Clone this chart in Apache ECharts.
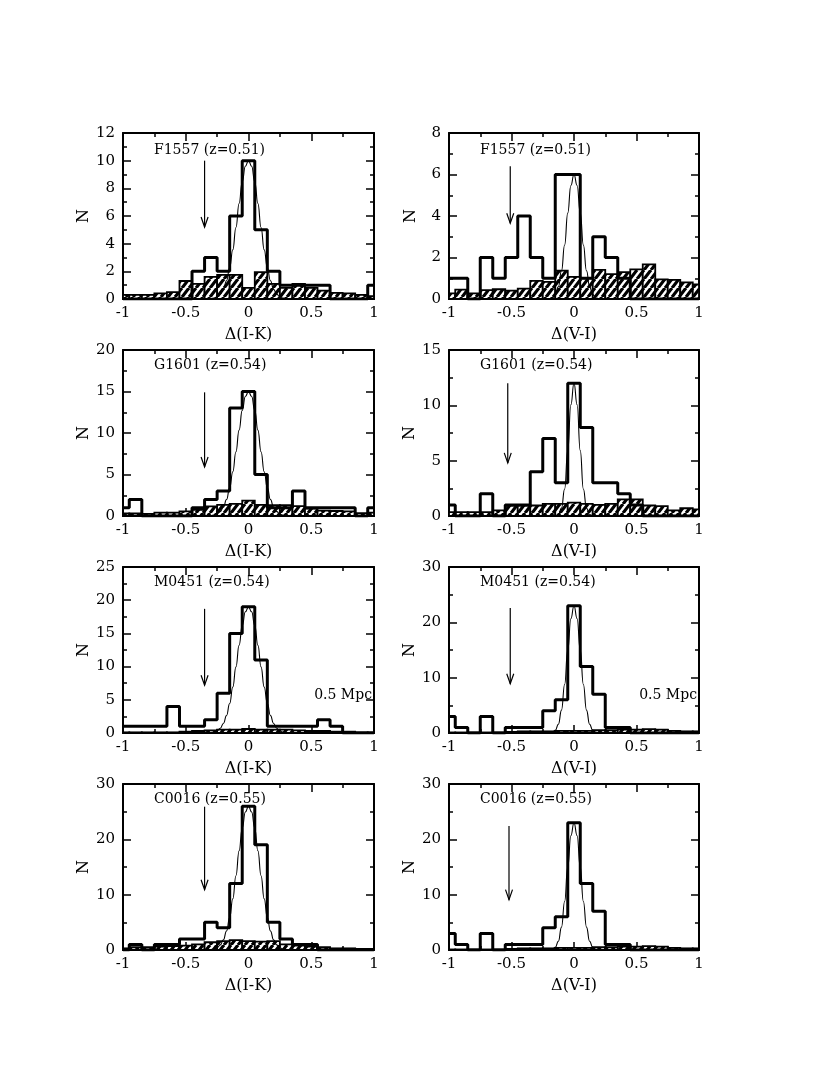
<!DOCTYPE html>
<html>
<head>
<meta charset="utf-8">
<script src="https://cdn.jsdelivr.net/npm/echarts@6/dist/echarts.min.js"></script>
<style>
html,body{margin:0;padding:0;background:#fff;}
#chart{width:830px;height:1075px;}
</style>
</head>
<body>
<div id="chart"></div>
<script>
// ---------------- DATA ----------------
const binCenters = [-1.0,-0.9,-0.8,-0.7,-0.6,-0.5,-0.4,-0.3,-0.2,-0.1,0,0.1,0.2,0.3,0.4,0.5,0.6,0.7,0.8,0.9,1.0];
const BIN_WIDTH = 0.1;
const X_MIN = -1, X_MAX = 1, X_STEP = 0.5;
const xTickLabels = ['-1','-0.5','0','0.5','1'];

const clusterNames = ['F1557 (z=0.51)','G1601 (z=0.54)','M0451 (z=0.54)','C0016 (z=0.55)'];
const colourNames = ['\u0394(I-K)','\u0394(V-I)'];
const apertureLabel = '0.5 Mpc';

// cluster histograms (thick steps), one value per bin centre
const f1557IK = [0,0,0,0,0,0,2,3,2,6,10,5,2,1,1,1,1,0,0,0,1];
const f1557VI = [1,1,0,2,1,2,4,2,1,6,6,1,3,2,1,0,0,0,0,0,0];
const g1601IK = [1,2,0,0,0,0,1,2,3,13,15,5,1,1,3,1,1,1,1,0,1];
const g1601VI = [1,0,0,2,0,1,1,4,7,3,12,8,3,3,2,1,0,0,0,0,0];
const m0451IK = [1,1,1,1,4,1,1,2,6,15,19,11,1,1,1,1,2,1,0,0,0];
const m0451VI = [3,1,0,3,0,1,1,1,4,6,23,12,7,1,1,0,0,0,0,0,0];
const c0016IK = [0,1,0,1,1,2,2,5,4,12,26,19,5,2,1,1,0,0,0,0,0];
const c0016VI = [3,1,0,3,0,1,1,1,4,6,23,12,7,1,1,0,0,0,0,0,0];

// field histograms (hatched)
const f1557IKField = [0.3,0.3,0.3,0.4,0.5,1.3,1.1,1.6,1.75,1.75,0.8,1.95,1.1,0.8,1.1,0.8,0.6,0.45,0.4,0.3,0.2];
const f1557VIField = [0.27,0.45,0.27,0.43,0.47,0.4,0.5,0.87,0.83,1.37,1.07,1.0,1.4,1.2,1.3,1.43,1.67,0.95,0.92,0.8,0.7];
const g1601IKField = [0.3,0.3,0.25,0.4,0.4,0.55,0.75,1.15,1.35,1.45,1.85,1.35,1.3,1.3,1.2,0.9,0.65,0.6,0.55,0.35,0.4];
const g1601VIField = [0.35,0.35,0.35,0.35,0.5,0.95,0.95,0.95,1.1,1.1,1.2,1.1,1.0,1.1,1.5,1.5,0.95,0.9,0.5,0.7,0.6];
const m0451IKField = [0.1,0.1,0.1,0.1,0.1,0.2,0.3,0.4,0.5,0.5,0.6,0.5,0.5,0.5,0.4,0.3,0.3,0.2,0.2,0.1,0.1];
const m0451VIField = [0.1,0.1,0.1,0.1,0.1,0.2,0.3,0.3,0.3,0.4,0.4,0.4,0.5,0.5,0.6,0.6,0.7,0.6,0.4,0.3,0.3];
const c0016IKField = [0.3,0.5,0.5,0.6,0.7,0.8,1.0,1.4,1.6,1.8,1.6,1.5,1.6,1.0,0.8,0.6,0.5,0.3,0.3,0.2,0.2];
const c0016VIField = [0.1,0.1,0.1,0.1,0.1,0.2,0.3,0.3,0.3,0.4,0.4,0.4,0.5,0.5,0.6,0.6,0.7,0.6,0.4,0.3,0.3];

// fitted curves (thin), read at these x positions
const fitX = [-0.3,-0.275,-0.25,-0.225,-0.2,-0.175,-0.15,-0.125,-0.1,-0.075,-0.05,-0.025,0,0.025,0.05,0.075,0.1,0.125,0.15,0.175,0.2,0.225,0.25,0.275,0.3];
const f1557IKFit = [0.03,0.07,0.16,0.35,0.71,1.32,2.26,3.56,5.17,6.9,8.48,9.6,10,9.6,8.48,6.9,5.17,3.56,2.26,1.32,0.71,0.35,0.16,0.07,0.03];
const f1557VIFit = [0,0,0,0,0.02,0.06,0.21,0.59,1.36,2.6,4.14,5.47,6,5.47,4.14,2.6,1.36,0.59,0.21,0.06,0.02,0,0,0,0];
const g1601IKFit = [0.04,0.1,0.24,0.53,1.07,1.98,3.39,5.34,7.75,10.35,12.72,14.39,15,14.39,12.72,10.35,7.75,5.34,3.39,1.98,1.07,0.53,0.24,0.1,0.04];
const g1601VIFit = [0,0,0,0,0,0,0.02,0.14,0.71,2.44,5.91,10.05,12,10.05,5.91,2.44,0.71,0.14,0.02,0,0,0,0,0,0];
const m0451IKFit = [0.06,0.14,0.34,0.72,1.44,2.63,4.44,6.93,9.96,13.21,16.17,18.25,19,18.25,16.17,13.21,9.96,6.93,4.44,2.63,1.44,0.72,0.34,0.14,0.06];
const m0451VIFit = [0,0,0,0,0.02,0.12,0.49,1.58,4.14,8.77,14.98,20.66,23,20.66,14.98,8.77,4.14,1.58,0.49,0.12,0.02,0,0,0,0];
const c0016IKFit = [0.07,0.18,0.42,0.92,1.85,3.44,5.88,9.26,13.43,17.93,22.04,24.95,26,24.95,22.04,17.93,13.43,9.26,5.88,3.44,1.85,0.92,0.42,0.18,0.07];
const c0016VIFit = [0,0,0,0,0.02,0.12,0.49,1.58,4.14,8.77,14.98,20.66,23,20.66,14.98,8.77,4.14,1.58,0.49,0.12,0.02,0,0,0,0];

// arrows: [x, y of tail, y of tip]
const f1557IKArrow = [-0.35, 10, 5.2];
const f1557VIArrow = [-0.51, 6.4, 3.65];
const g1601IKArrow = [-0.35, 14.9, 5.9];
const g1601VIArrow = [-0.53, 12.0, 4.8];
const m0451IKArrow = [-0.35, 18.7, 7.2];
const m0451VIArrow = [-0.51, 22.6, 8.9];
const c0016IKArrow = [-0.35, 25.9, 10.9];
const c0016VIArrow = [-0.52, 22.4, 9.1];

// y axis ranges: [max, interval]
const yRanges = [[12,2],[8,2],[20,5],[15,5],[25,5],[30,10],[30,10],[30,10]];

// ---------------- LAYOUT ----------------
const FONT = 'DejaVu Serif';
const colLeft = [123, 449];
const colWidth = [251, 250];
const rowTop = [133, 350, 567, 784];
const rowHeight = 166;

const panels = [
  {row:0,col:0,cluster:f1557IK,field:f1557IKField,fit:f1557IKFit,arrow:f1557IKArrow},
  {row:0,col:1,cluster:f1557VI,field:f1557VIField,fit:f1557VIFit,arrow:f1557VIArrow},
  {row:1,col:0,cluster:g1601IK,field:g1601IKField,fit:g1601IKFit,arrow:g1601IKArrow},
  {row:1,col:1,cluster:g1601VI,field:g1601VIField,fit:g1601VIFit,arrow:g1601VIArrow},
  {row:2,col:0,cluster:m0451IK,field:m0451IKField,fit:m0451IKFit,arrow:m0451IKArrow,aperture:true},
  {row:2,col:1,cluster:m0451VI,field:m0451VIField,fit:m0451VIFit,arrow:m0451VIArrow,aperture:true},
  {row:3,col:0,cluster:c0016IK,field:c0016IKField,fit:c0016IKFit,arrow:c0016IKArrow},
  {row:3,col:1,cluster:c0016VI,field:c0016VIField,fit:c0016VIFit,arrow:c0016VIArrow}
];

function makeHatch(){
  const w = 7, h = 9;
  const c = document.createElement('canvas');
  c.width = w; c.height = h;
  const g = c.getContext('2d');
  g.fillStyle = '#fff'; g.fillRect(0,0,w,h);
  g.strokeStyle = '#000'; g.lineWidth = 3.2; g.beginPath();
  [-w,0,w].forEach(dx => { g.moveTo(dx,h); g.lineTo(dx+w,0); });
  g.stroke();
  return c;
}
const hatch = makeHatch();

function hatchRender(params, api){
  const c = api.value(0), v = api.value(1);
  if (!(v > 0)) return null;
  const x0 = Math.max(c - BIN_WIDTH/2, X_MIN), x1 = Math.min(c + BIN_WIDTH/2, X_MAX);
  const a = api.coord([x0, v]), b = api.coord([x1, 0]);
  return {type:'rect', shape:{x:a[0], y:a[1], width:b[0]-a[0], height:b[1]-a[1]},
          style:{fill:{image:hatch, repeat:'repeat'}, stroke:'#000', lineWidth:1.8}};
}
function arrowRender(params, api){
  const top = api.coord([api.value(0), api.value(1)]);
  const tip = api.coord([api.value(0), api.value(2)]);
  return {type:'group', children:[
    {type:'line', shape:{x1:top[0],y1:top[1],x2:tip[0],y2:tip[1]}, style:{stroke:'#000', lineWidth:1.2}},
    {type:'polyline', shape:{points:[[tip[0]-3.5,tip[1]-10],[tip[0],tip[1]],[tip[0]+3.5,tip[1]-10]]},
     style:{stroke:'#000', fill:null, lineWidth:1.2}}
  ]};
}

const grid = [], xAxis = [], yAxis = [], series = [], title = [];
const tickStyle = {color:'#000', width:1.5};
panels.forEach((p, i) => {
  const left = colLeft[p.col], top = rowTop[p.row], width = colWidth[p.col];
  grid.push({left:left, top:top, width:width, height:rowHeight});
  const [yMax, yStep] = yRanges[i];
  const xBase = {gridIndex:i, type:'value', min:X_MIN, max:X_MAX, interval:X_STEP,
    axisLine:{show:true, onZero:false, lineStyle:{color:'#000', width:2}},
    axisTick:{show:true, inside:true, length:8, lineStyle:tickStyle},
    minorTick:{show:true, splitNumber:2, length:4, lineStyle:tickStyle},
    splitLine:{show:false}, minorSplitLine:{show:false}};
  xAxis.push(Object.assign({}, xBase, {position:'bottom',
    name: colourNames[p.col], nameLocation:'middle', nameGap:28,
    nameTextStyle:{fontFamily:FONT, fontSize:16, color:'#000'},
    axisLabel:{show:true, margin:7, fontFamily:FONT, fontSize:15, color:'#000',
      formatter: v => xTickLabels[Math.round((v - X_MIN)/X_STEP)]}}));
  xAxis.push(Object.assign({}, xBase, {position:'top', axisLabel:{show:false}}));
  const yBase = {gridIndex:i, type:'value', min:0, max:yMax, interval:yStep,
    axisLine:{show:true, onZero:false, lineStyle:{color:'#000', width:2}},
    axisTick:{show:true, inside:true, length:8, lineStyle:tickStyle},
    minorTick:{show:true, splitNumber:2, length:4, lineStyle:tickStyle},
    splitLine:{show:false}, minorSplitLine:{show:false}};
  yAxis.push(Object.assign({}, yBase, {position:'left',
    name:'N', nameLocation:'middle', nameGap: p.col === 0 ? 30 : 30, nameRotate:90,
    nameTextStyle:{fontFamily:FONT, fontSize:16, color:'#000'},
    axisLabel:{show:true, margin:8, fontFamily:FONT, fontSize:15, color:'#000'}}));
  yAxis.push(Object.assign({}, yBase, {position:'right', axisLabel:{show:false}}));

  const xi = 2*i, yi = 2*i;
  series.push({type:'custom', xAxisIndex:xi, yAxisIndex:yi, renderItem:hatchRender, z:2,
    encode:{x:0, y:1}, data: binCenters.map((c,k) => [c, p.field[k]]), silent:true});
  series.push({type:'line', xAxisIndex:xi, yAxisIndex:yi, step:'middle', symbol:'none', z:3,
    lineStyle:{color:'#000', width:3}, data: binCenters.map((c,k) => [c, p.cluster[k]]), silent:true});
  series.push({type:'line', xAxisIndex:xi, yAxisIndex:yi, smooth:true, smoothMonotone:'x', symbol:'none', z:4,
    lineStyle:{color:'#000', width:1.1}, data: fitX.map((x,k) => [x, p.fit[k]]), silent:true});
  series.push({type:'custom', xAxisIndex:xi, yAxisIndex:yi, renderItem:arrowRender, z:5,
    encode:{x:0, y:[1,2]}, data:[p.arrow], silent:true});

  title.push({text: clusterNames[p.row], left: left + 31, top: top + (p.row === 0 ? 10 : 8), padding:0,
    textStyle:{fontFamily:FONT, fontSize:14, fontWeight:'normal', color:'#000'}});
  if (p.aperture) {
    title.push({text: apertureLabel, right: 830 - (left + width) + 2, top: top + 121, padding:0,
      textStyle:{fontFamily:FONT, fontSize:14, fontWeight:'normal', color:'#000'}});
  }
});

const chart = echarts.init(document.getElementById('chart'), null, {renderer:'canvas', width:830, height:1075});
chart.setOption({backgroundColor:'#fff', animation:false, title, grid, xAxis, yAxis, series});
</script>
</body>
</html>
